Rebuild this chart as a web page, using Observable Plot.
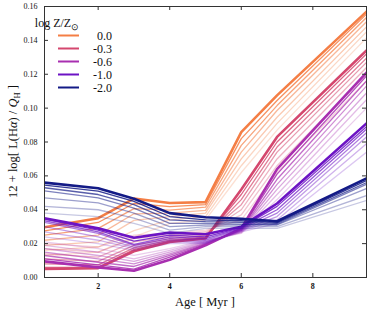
<!DOCTYPE html>
<html><head><meta charset="utf-8">
<script src="https://cdn.jsdelivr.net/npm/d3@7"></script>
<script src="https://cdn.jsdelivr.net/npm/@observablehq/plot@0.6"></script>
<style>body{margin:0;background:#fff;} #chart{position:relative;width:374px;height:316px;}</style>
</head><body><div id="chart"></div>
<script>
const ages = [0.5, 2, 3, 4, 5, 6, 7, 9.5];
const xTicks = [2, 4, 6, 8];
const yTicks = [0, 0.02, 0.04, 0.06, 0.08, 0.10, 0.12, 0.14, 0.16];
const yTickLabels = ["0.00","0.02","0.04","0.06","0.08","0.10","0.12","0.14","0.16"];
const zLabels = ["0.0", "-0.3", "-0.6", "-1.0", "-2.0"];
const colors = ["#f47e45", "#d4476e", "#a82fb0", "#6c13c4", "#131a86"];

const z00 = [
 [0.0297,0.035,0.0466,0.044,0.0445,0.0858,0.1075,0.157],
 [0.0275,0.0325,0.0437,0.0418,0.043,0.082,0.1045,0.1555],
 [0.025,0.029,0.0407,0.0398,0.0415,0.078,0.1015,0.1535],
 [0.022,0.025,0.0376,0.038,0.0396,0.074,0.0986,0.151],
 [0.019,0.021,0.0337,0.036,0.038,0.070,0.0946,0.148],
 [0.016,0.018,0.0277,0.034,0.036,0.066,0.091,0.145],
 [0.013,0.015,0.024,0.032,0.034,0.062,0.087,0.1415]
];
const z03 = [
 [0.005,0.0055,0.0155,0.021,0.023,0.052,0.083,0.134],
 [0.006,0.006,0.0165,0.0215,0.0235,0.049,0.080,0.132],
 [0.008,0.0075,0.0175,0.022,0.024,0.046,0.077,0.1295],
 [0.011,0.0095,0.019,0.023,0.025,0.043,0.074,0.127],
 [0.014,0.012,0.021,0.024,0.026,0.040,0.070,0.124],
 [0.017,0.015,0.023,0.025,0.027,0.037,0.066,0.120],
 [0.020,0.018,0.025,0.026,0.028,0.034,0.062,0.116]
];
const z06 = [
 [0.0095,0.006,0.004,0.0105,0.019,0.029,0.064,0.121],
 [0.011,0.0075,0.005,0.012,0.0195,0.0285,0.061,0.119],
 [0.013,0.009,0.0065,0.013,0.020,0.028,0.058,0.116],
 [0.015,0.011,0.008,0.014,0.0205,0.0275,0.055,0.113],
 [0.017,0.013,0.0095,0.015,0.021,0.027,0.052,0.109],
 [0.019,0.015,0.011,0.016,0.0215,0.0265,0.049,0.105],
 [0.021,0.017,0.013,0.017,0.022,0.026,0.046,0.100]
];
const z10 = [
 [0.035,0.029,0.0235,0.0265,0.0255,0.030,0.0437,0.091],
 [0.0345,0.028,0.0215,0.025,0.024,0.0295,0.042,0.089],
 [0.0335,0.027,0.0195,0.024,0.023,0.029,0.040,0.0875],
 [0.0325,0.026,0.019,0.023,0.022,0.0285,0.038,0.0855],
 [0.030,0.024,0.018,0.022,0.021,0.028,0.036,0.083],
 [0.027,0.022,0.017,0.021,0.0205,0.0275,0.034,0.079],
 [0.024,0.020,0.016,0.020,0.020,0.027,0.032,0.074]
];
const z20 = [
 [0.056,0.0527,0.0465,0.038,0.0356,0.0347,0.0332,0.0585],
 [0.0545,0.051,0.045,0.036,0.034,0.0335,0.0325,0.0573],
 [0.053,0.049,0.043,0.034,0.033,0.0325,0.032,0.056],
 [0.0512,0.047,0.041,0.032,0.032,0.0315,0.0313,0.055],
 [0.047,0.044,0.038,0.030,0.031,0.031,0.031,0.0525],
 [0.042,0.040,0.035,0.028,0.030,0.030,0.030,0.0484],
 [0.038,0.036,0.032,0.026,0.029,0.029,0.029,0.0455]
];
const groups = [z00, z03, z06, z10, z20];
const opac = [1, 0.85, 0.7, 0.55, 0.42, 0.32, 0.24];

const W = 374, H = 316;
const mL = 44, mR = 8, mT = 6, mB = 39;
const xDom = [0.5, 9.5], yDom = [0, 0.16];
const tickPx = 4;
const dyTick = (yDom[1]-yDom[0]) * tickPx / (H - mT - mB);
const dxTick = (xDom[1]-xDom[0]) * tickPx / (W - mL - mR);

const marks = [];
groups.forEach((lines, gi) => {
  for (let k = lines.length - 1; k >= 0; k--) {
    const data = ages.map((a, i) => ({age: a, v: lines[k][i]}));
    marks.push(Plot.line(data, {x: "age", y: "v", stroke: colors[gi], strokeOpacity: opac[k],
      strokeWidth: k === 0 ? 2.6 : 1.3, strokeLinejoin: "round", clip: true}));
  }
});
marks.push(Plot.ruleX(xTicks, {y1: yDom[0], y2: yDom[0] + dyTick, stroke: "#333"}));
marks.push(Plot.ruleX(xTicks, {y1: yDom[1] - dyTick, y2: yDom[1], stroke: "#333"}));
marks.push(Plot.ruleY(yTicks, {x1: xDom[0], x2: xDom[0] + dxTick, stroke: "#333"}));
marks.push(Plot.ruleY(yTicks, {x1: xDom[1] - dxTick, x2: xDom[1], stroke: "#333"}));
marks.push(Plot.frame({stroke: "#333", strokeWidth: 1}));
marks.push(Plot.axisX(xTicks, {tickSize: 0, tickPadding: 6, label: null, fontSize: 8, fontWeight: 600}));
marks.push(Plot.axisY(yTicks, {tickSize: 0, tickPadding: 7, label: null, fontSize: 8,
  tickFormat: (d, i) => yTickLabels[yTicks.indexOf(d)]}));

const svg = Plot.plot({
  width: W, height: H,
  marginLeft: mL, marginRight: mR, marginTop: mT, marginBottom: mB,
  x: {domain: xDom}, y: {domain: yDom},
  style: {fontFamily: "Liberation Serif", background: "#fff", color: "#111"},
  marks
});
document.getElementById("chart").appendChild(svg);

const s = d3.select(svg);
const xr = [mL, W - mR], yr = [mT, H - mB];
// x axis label
s.append("text").attr("x", (xr[0] + xr[1]) / 2).attr("y", 306)
  .attr("text-anchor", "middle").attr("font-size", 12.5).attr("fill", "#111")
  .attr("font-family", "Liberation Serif").text("Age [ Myr ]");
// y axis label
const yl = s.append("text").attr("transform", `translate(17,${(yr[0] + yr[1]) / 2}) rotate(-90)`)
  .attr("text-anchor", "middle").attr("font-size", 12.5).attr("fill", "#111")
  .attr("font-family", "Liberation Serif");
yl.append("tspan").text("12 + log[ L(H");
yl.append("tspan").attr("font-style", "italic").text("α");
yl.append("tspan").text(") / ");
yl.append("tspan").attr("font-style", "italic").text("Q");
yl.append("tspan").attr("font-size", 8.5).attr("dy", 3).text("H");
yl.append("tspan").attr("dy", -3).text(" ]");

// legend
const lg = s.append("g").attr("font-family", "Liberation Serif").attr("fill", "#111");
const lt = lg.append("text").attr("x", 57).attr("y", 27).attr("font-size", 12);
lt.append("tspan").text("log Z/Z");
lt.append("tspan").attr("font-size", 8.5).attr("dy", 3).text("⊙");
zLabels.forEach((lab, i) => {
  const y = 35.5 + i * 13;
  lg.append("line").attr("x1", 58).attr("x2", 79).attr("y1", y).attr("y2", y)
    .attr("stroke", colors[i]).attr("stroke-width", 2);
  lg.append("text").attr("x", 112).attr("y", y + 4).attr("text-anchor", "end")
    .attr("font-size", 12).text(lab);
});
</script>
</body></html>
